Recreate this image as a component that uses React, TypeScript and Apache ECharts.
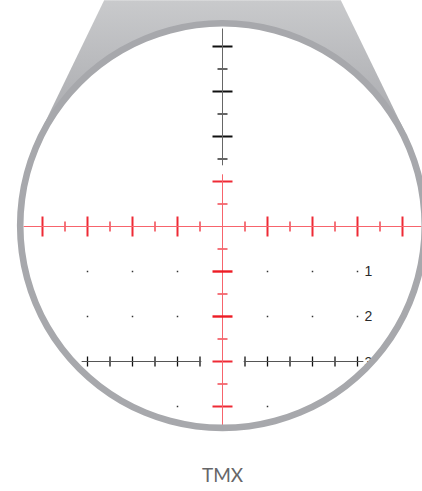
import React, { useEffect, useRef } from "react";
import * as echarts from "echarts";

const WIDTH = 422;
const HEIGHT = 491;
const PX_PER_UNIT = 45;
const CENTER_X = 222.5;
const CENTER_Y = 226.5;

// Reticle values, in reticle units from the centre
const verticalBlackMajor = [4, 3, 2];
const verticalBlackMinor = [3.5, 2.5, 1.5];
const verticalRedMajor = [1, -3, -4];
const verticalRedBold = [-1, -2];
const verticalRedMinor = [0.5, -0.5, -1.5, -2.5, -3.5];
const horizontalMajor = [-4, -3, -2, -1, 1, 2, 3, 4];
const horizontalMinor = [-3.5, -2.5, -1.5, -0.5, 0.5, 1.5, 2.5, 3.5];
const lowerScaleTicks = [-3, -2.5, -2, -1.5, -1, -0.5, 0.5, 1, 1.5, 2, 2.5, 3];
const dotColumns = [-3, -2, -1, 1, 2, 3];
const dotRows = [-1, -2];
const lowestDotColumns = [-1, 1];
const lowestDotRow = -4;
const rowLabels = ["1", "2", "3"];
const rowLabelValues = [-0.98, -1.99, -3];
const rowLabelColumn = 3.24;

const verticalBlackSpan = [1.36, 4.4];
const verticalRedSpan = [-4.42, 1.16];
const horizontalSpan = [-4.42, 4.42];
const lowerScaleSpans = [[-3.13, -0.47], [0.47, 3.13]];
const lowerScaleRow = -3;

const MAJOR_HALF = 10 / PX_PER_UNIT;
const MINOR_HALF = 5 / PX_PER_UNIT;

const bellPoints = [
  [-2.63, 5.03],
  [2.63, 5.03],
  [4.06, 2.09],
  [-4.01, 2.18],
];
const ringCentre = [0, 0.02];
const ringInner = 199;
const ringOuter = 205.6;

type Row = number[];

const hTicks = (ys: number[], half: number): Row[] => ys.map((y) => [-half, y, half, y]);
const vTicks = (xs: number[], y: number, half: number): Row[] =>
  xs.map((x) => [x, y - half, x, y + half]);

const segments = (name: string, rows: Row[], color: string, width: number, z: number) => ({
  type: "custom",
  name,
  z,
  silent: true,
  data: rows,
  renderItem: (_p: any, api: any) => {
    const a = api.coord([api.value(0), api.value(1)]);
    const b = api.coord([api.value(2), api.value(3)]);
    return {
      type: "line",
      shape: { x1: a[0], y1: a[1], x2: b[0], y2: b[1] },
      style: { stroke: color, lineWidth: width, fill: "none" },
    };
  },
});

const dots = dotRows.flatMap((y) => dotColumns.map((x) => [x, y]));
lowestDotColumns.forEach((x) => dots.push([x, lowestDotRow]));

const option: any = {
  animation: false,
  backgroundColor: "#ffffff",
  title: {
    text: "TMX",
    left: CENTER_X,
    top: 465,
    textAlign: "center",
    padding: 0,
    textStyle: { fontFamily: "Lato", fontSize: 19, fontWeight: 400, color: "#666668" },
  },
  grid: { left: 0, right: 0, top: 0, bottom: 0, containLabel: false },
  xAxis: {
    type: "value",
    show: false,
    min: -CENTER_X / PX_PER_UNIT,
    max: (WIDTH - CENTER_X) / PX_PER_UNIT,
  },
  yAxis: {
    type: "value",
    show: false,
    min: -(HEIGHT - CENTER_Y) / PX_PER_UNIT,
    max: CENTER_Y / PX_PER_UNIT,
  },
  series: [
    {
      type: "custom",
      name: "bell",
      z: 1,
      silent: true,
      data: [[0]],
      renderItem: (_p: any, api: any) => ({
        type: "polygon",
        shape: { points: bellPoints.map((p) => api.coord(p)) },
        style: {
          fill: new echarts.graphic.LinearGradient(0, 0, 0, 1, [
            { offset: 0, color: "#c9cacc" },
            { offset: 1, color: "#a8a9ad" },
          ]),
        },
      }),
    },
    {
      type: "custom",
      name: "lens",
      z: 2,
      silent: true,
      data: [[0]],
      renderItem: (_p: any, api: any) => {
        const c = api.coord(ringCentre);
        return {
          type: "circle",
          shape: { cx: c[0], cy: c[1], r: ringInner + 1 },
          style: { fill: "#ffffff" },
        };
      },
    },
    segments("black major", hTicks(verticalBlackMajor, MAJOR_HALF), "#111111", 2, 3),
    segments("black minor", hTicks(verticalBlackMinor, MINOR_HALF), "#111111", 1.3, 3),
    segments("red major", hTicks(verticalRedMajor, MAJOR_HALF), "#ee2a35", 2, 3),
    segments("red minor", hTicks(verticalRedMinor, MINOR_HALF), "#ee2a35", 1.3, 3),
    segments("horizontal major", vTicks(horizontalMajor, 0, MAJOR_HALF), "#ee2a35", 2, 3),
    segments("horizontal minor", vTicks(horizontalMinor, 0, MINOR_HALF), "#ee2a35", 1.3, 3),
    segments("lower ticks", vTicks(lowerScaleTicks, lowerScaleRow, MINOR_HALF), "#111111", 1.3, 3),
    segments(
      "lower scale",
      lowerScaleSpans.map((s) => [s[0], lowerScaleRow, s[1], lowerScaleRow]),
      "#555555",
      1,
      4
    ),
    segments("black stem", [[0, verticalBlackSpan[0], 0, verticalBlackSpan[1]]], "#666666", 1, 4),
    segments("red stem", [[0, verticalRedSpan[0], 0, verticalRedSpan[1]]], "#f7646c", 1, 4),
    segments("horizontal", [[horizontalSpan[0], 0, horizontalSpan[1], 0]], "#f7646c", 1, 4),
    segments("red bold", hTicks(verticalRedBold, MAJOR_HALF), "#ed1c24", 2.4, 5),
    {
      type: "scatter",
      name: "dots",
      z: 3,
      silent: true,
      symbol: "rect",
      symbolSize: 1.5,
      itemStyle: { color: "#000000" },
      data: dots,
    },
    {
      type: "custom",
      name: "row labels",
      z: 3,
      silent: true,
      data: rowLabels.map((t, i) => [rowLabelColumn, rowLabelValues[i], t]),
      encode: { x: 0, y: 1 },
      renderItem: (_p: any, api: any) => {
        const c = api.coord([api.value(0), api.value(1)]);
        return {
          type: "text",
          x: c[0],
          y: c[1],
          style: {
            text: rowLabels[_p.dataIndex],
            fontFamily: "Liberation Sans",
            fontSize: 14,
            fill: "#2a2a2a",
            align: "center",
            verticalAlign: "middle",
          },
        };
      },
    },
    {
      type: "custom",
      name: "ring",
      z: 6,
      silent: true,
      data: [[0]],
      renderItem: (_p: any, api: any) => {
        const c = api.coord(ringCentre);
        return {
          type: "ring",
          shape: { cx: c[0], cy: c[1], r: ringOuter, r0: ringInner },
          style: { fill: "#a7a8ac" },
        };
      },
    },
  ],
};

export default function App() {
  const ref = useRef<HTMLDivElement>(null);
  useEffect(() => {
    const chart = echarts.init(ref.current!, undefined, { renderer: "svg" });
    chart.setOption(option);
    return () => chart.dispose();
  }, []);
  return (
    <div
      ref={ref}
      style={{ position: "absolute", left: 0, top: 0, width: WIDTH, height: HEIGHT }}
    />
  );
}
